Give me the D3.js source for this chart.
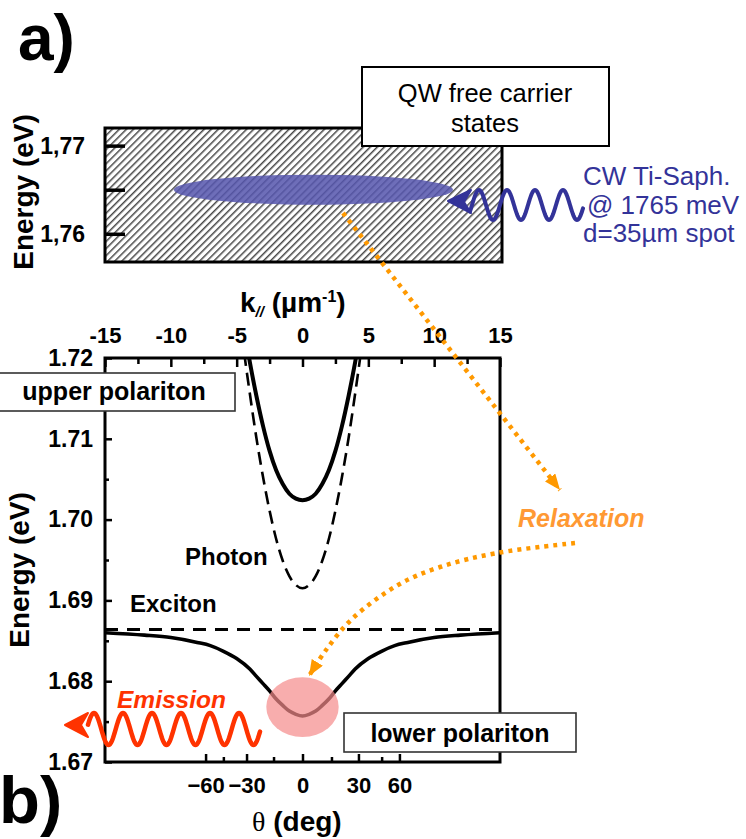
<!DOCTYPE html>
<html>
<head>
<meta charset="utf-8">
<script src="https://cdn.jsdelivr.net/npm/d3@7"></script>
<style>
  html, body { margin: 0; padding: 0; background: #fff; }
  svg { display: block; }
</style>
</head>
<body>
<svg id="fig" width="746" height="839"></svg>
<script>
const FONT = '"Liberation Sans", Arial, Helvetica, sans-serif';
const SERIF = '"Liberation Serif", "DejaVu Serif", serif';

// ---------- axis ticks ----------
const kTicks = [-15, -10, -5, 0, 5, 10, 15];
const kMinorTicks = [-12.5, -7.5, -2.5, 2.5, 7.5, 12.5];
const energyTicksB = [1.67, 1.68, 1.69, 1.70, 1.71, 1.72];
const energyMinorB = [1.675, 1.685, 1.695, 1.705, 1.715];
const energyTicksA = [1.76, 1.765, 1.77];
const energyLabelsA = [1.76, 1.77];
const thetaTicks = [-60, -30, 0, 30, 60];
const thetaMinor = [-45, -15, 15, 45];
const kLight = 8.5;               // light wavevector at ~1.68 eV, µm^-1 (k = kLight·sinθ)

// ---------- dispersion curves (k in µm^-1, E in eV) ----------
const kPhoton = [-5, -4.5, -4, -3.5, -3, -2.5, -2, -1.5, -1, -0.5, 0, 0.5, 1, 1.5, 2, 2.5, 3, 3.5, 4, 4.5, 5];
const ePhoton = [1.7280, 1.7215, 1.7156, 1.7101, 1.7053, 1.7011, 1.6976, 1.6949, 1.6930, 1.6919, 1.6915,
                 1.6919, 1.6930, 1.6949, 1.6976, 1.7011, 1.7053, 1.7101, 1.7156, 1.7215, 1.7280];

const kUpper = [-4.5, -4, -3.5, -3, -2.5, -2, -1.5, -1, -0.5, 0, 0.5, 1, 1.5, 2, 2.5, 3, 3.5, 4, 4.5];
const eUpper = [1.7242, 1.7195, 1.7153, 1.7116, 1.7085, 1.7061, 1.7044, 1.7032, 1.7026, 1.7024,
                1.7026, 1.7032, 1.7044, 1.7061, 1.7085, 1.7116, 1.7153, 1.7195, 1.7242];

const kLower = [-15, -12, -10, -8, -7, -6, -5, -4, -3.5, -3, -2.5, -2, -1.5, -1, -0.5, 0,
                0.5, 1, 1.5, 2, 2.5, 3, 3.5, 4, 5, 6, 7, 8, 10, 12, 15];
const eLower = [1.6860, 1.6857, 1.6854, 1.6848, 1.6844, 1.6837, 1.6828, 1.6815, 1.6806, 1.6797, 1.6788,
                1.6778, 1.6770, 1.6763, 1.6759, 1.6757, 1.6759, 1.6763, 1.6770, 1.6778, 1.6788,
                1.6797, 1.6806, 1.6815, 1.6828, 1.6837, 1.6844, 1.6848, 1.6854, 1.6857, 1.6860];

const kExciton = [-15, 15];
const eExciton = [1.6864, 1.6864];

// pump spot in the free-carrier continuum (centred on 1765 meV) and polariton population at k = 0
const spotK = [-9.8, 11.3];
const spotE = [1.7633, 1.7667];
const popK = [-2.75, 2.75];
const popE = [1.6731, 1.6805];

// ---------- scales ----------
const xA = d3.scaleLinear().domain([-15, 15]).range([105, 502]);
const yA = d3.scaleLinear().domain([1.7568, 1.7720]).range([262, 128]);
const xB = d3.scaleLinear().domain([-15, 15]).range([105, 500]);
const yB = d3.scaleLinear().domain([1.67, 1.72]).range([762, 358]);

const svg = d3.select("#fig");
const defs = svg.append("defs");

// diagonal hatching for the continuum of free-carrier states
const pat = defs.append("pattern")
  .attr("id", "hatch").attr("patternUnits", "userSpaceOnUse")
  .attr("width", 5).attr("height", 5).attr("patternTransform", "rotate(45)");
pat.append("rect").attr("width", 5).attr("height", 5).attr("fill", "#fff");
pat.append("rect").attr("x", 0).attr("y", 0).attr("width", 1.5).attr("height", 5).attr("fill", "#474747");

defs.append("clipPath").attr("id", "plotClip")
  .append("rect").attr("x", xB.range()[0]).attr("y", yB.range()[1])
  .attr("width", xB.range()[1] - xB.range()[0]).attr("height", yB.range()[0] - yB.range()[1]);

function addArrowMarker(id, color, len, wid) {
  defs.append("marker").attr("id", id)
    .attr("markerUnits", "userSpaceOnUse")
    .attr("viewBox", `0 0 ${len} ${wid}`)
    .attr("refX", len).attr("refY", wid / 2)
    .attr("markerWidth", len).attr("markerHeight", wid)
    .attr("orient", "auto")
    .append("path").attr("d", `M0,0 L${len},${wid / 2} L0,${wid} Z`).attr("fill", color);
}
addArrowMarker("orangeHead", "#ff9900", 16, 13);

function styleAxis(g, size, width) {
  g.attr("font-family", FONT).attr("font-size", size).attr("font-weight", "bold");
  g.selectAll("text").attr("fill", "#000");
  g.selectAll(".tick line").attr("stroke", "#000").attr("stroke-width", width);
  g.select(".domain").remove();
}

// ================= panel a) =================
svg.append("text").attr("x", 18).attr("y", 60)
  .attr("font-family", FONT).attr("font-weight", "bold").attr("font-size", 64).text("a)");

svg.append("rect")
  .attr("x", xA.range()[0]).attr("y", yA.range()[1])
  .attr("width", xA.range()[1] - xA.range()[0]).attr("height", yA.range()[0] - yA.range()[1])
  .attr("fill", "url(#hatch)");

svg.append("ellipse")
  .attr("cx", (xA(spotK[0]) + xA(spotK[1])) / 2)
  .attr("cy", (yA(spotE[0]) + yA(spotE[1])) / 2)
  .attr("rx", (xA(spotK[1]) - xA(spotK[0])) / 2)
  .attr("ry", (yA(spotE[0]) - yA(spotE[1])) / 2)
  .attr("fill", "#5656ae").attr("fill-opacity", 0.86);

svg.append("rect")
  .attr("x", xA.range()[0]).attr("y", yA.range()[1])
  .attr("width", xA.range()[1] - xA.range()[0]).attr("height", yA.range()[0] - yA.range()[1])
  .attr("fill", "none").attr("stroke", "#000").attr("stroke-width", 3);

const axA = svg.append("g").attr("transform", `translate(${xA.range()[0]},0)`)
  .call(d3.axisLeft(yA).tickValues(energyTicksA).tickSize(-20).tickPadding(20)
    .tickFormat(d => energyLabelsA.includes(d) ? d3.format(".2f")(d).replace(".", ",") : ""));
styleAxis(axA, 23, 3.5);

svg.append("text")
  .attr("transform", "translate(33,192) rotate(-90)")
  .attr("text-anchor", "middle")
  .attr("font-family", FONT).attr("font-weight", "bold").attr("font-size", 28)
  .text("Energy (eV)");

// label box for the continuum
svg.append("rect").attr("x", 362).attr("y", 67).attr("width", 247).attr("height", 79)
  .attr("fill", "#fff").attr("stroke", "#000").attr("stroke-width", 2);
svg.append("text").attr("x", 485).attr("y", 102).attr("text-anchor", "middle")
  .attr("font-family", FONT).attr("font-size", 25.5).text("QW free carrier");
svg.append("text").attr("x", 485).attr("y", 132).attr("text-anchor", "middle")
  .attr("font-family", FONT).attr("font-size", 25.5).text("states");

// sinusoidal photon symbol
function wavePath(x0, x1, yc, amp, period, xPeak) {
  const pts = [];
  for (let x = x0; x <= x1 + 0.01; x += 0.5) {
    pts.push([x, yc - amp * Math.cos(2 * Math.PI * (x - xPeak) / period)]);
  }
  return d3.line()(pts);
}

// pump laser
const blue = "#333399";
svg.append("path").attr("d", wavePath(470, 583, 205, 15, 28, 507))
  .attr("fill", "none").attr("stroke", blue).attr("stroke-width", 4).attr("stroke-linecap", "round");
svg.append("path").attr("d", "M471,190 L448,201 L471,213 L464,202 Z")
  .attr("fill", blue).attr("stroke", blue).attr("stroke-width", 2).attr("stroke-linejoin", "round");

const pumpLines = ["CW Ti-Saph.", "@ 1765 meV", "d=35\u00b5m spot"];
const pumpX = [583, 587, 583];
const pumpY = [185, 213.5, 242];
pumpLines.forEach((t, i) => {
  svg.append("text").attr("x", pumpX[i]).attr("y", pumpY[i])
    .attr("font-family", FONT).attr("font-size", 26).attr("fill", blue).text(t);
});

// ================= panel b) =================
const line = (ks, es) => d3.line().x((d, i) => xB(ks[i])).y(d => yB(d)).curve(d3.curveMonotoneX)(es);

const curves = svg.append("g").attr("clip-path", "url(#plotClip)");
curves.append("path").attr("d", line(kExciton, eExciton))
  .attr("fill", "none").attr("stroke", "#000").attr("stroke-width", 3).attr("stroke-dasharray", "13,9");
curves.append("path").attr("d", line(kPhoton, ePhoton))
  .attr("fill", "none").attr("stroke", "#000").attr("stroke-width", 2.6).attr("stroke-dasharray", "13,7");
curves.append("path").attr("d", line(kUpper, eUpper))
  .attr("fill", "none").attr("stroke", "#000").attr("stroke-width", 4);
curves.append("path").attr("d", line(kLower, eLower))
  .attr("fill", "none").attr("stroke", "#000").attr("stroke-width", 3.6);

// polariton population at the bottom of the lower branch
svg.append("ellipse")
  .attr("cx", (xB(popK[0]) + xB(popK[1])) / 2)
  .attr("cy", (yB(popE[0]) + yB(popE[1])) / 2)
  .attr("rx", (xB(popK[1]) - xB(popK[0])) / 2)
  .attr("ry", (yB(popE[0]) - yB(popE[1])) / 2)
  .attr("fill", "#f58a8a").attr("fill-opacity", 0.7);

// frame
svg.append("rect")
  .attr("x", xB.range()[0]).attr("y", yB.range()[1])
  .attr("width", xB.range()[1] - xB.range()[0]).attr("height", yB.range()[0] - yB.range()[1])
  .attr("fill", "none").attr("stroke", "#000").attr("stroke-width", 3);

// left energy axis
const axL = svg.append("g").attr("transform", `translate(${xB.range()[0]},0)`)
  .call(d3.axisLeft(yB).tickValues(energyTicksB).tickSize(-7).tickPadding(12).tickFormat(d3.format(".2f")));
styleAxis(axL, 23, 2.5);
const axLm = svg.append("g").attr("transform", `translate(${xB.range()[0]},0)`)
  .call(d3.axisLeft(yB).tickValues(energyMinorB).tickSize(-4).tickFormat(""));
styleAxis(axLm, 23, 2.5);

// top wavevector axis
const axT = svg.append("g").attr("transform", `translate(0,${yB.range()[1]})`)
  .call(d3.axisTop(xB).tickValues(kTicks).tickSize(-9).tickPadding(15).tickFormat(d => String(d)));
styleAxis(axT, 22, 2.5);
const axTm = svg.append("g").attr("transform", `translate(0,${yB.range()[1]})`)
  .call(d3.axisTop(xB).tickValues(kMinorTicks).tickSize(-6).tickFormat(""));
styleAxis(axTm, 22, 2.5);

// bottom emission-angle axis (k = kLight·sinθ)
const toK = t => kLight * Math.sin(t * Math.PI / 180);
const thetaLabel = new Map(thetaTicks.map(t => [toK(t), t < 0 ? "\u2212" + Math.abs(t) : String(t)]));
const axBt = svg.append("g").attr("transform", `translate(0,${yB.range()[0]})`)
  .call(d3.axisBottom(xB).tickValues(thetaTicks.map(toK)).tickSize(-8).tickPadding(15)
    .tickFormat(d => thetaLabel.get(d)));
styleAxis(axBt, 22, 2.5);
const axBm = svg.append("g").attr("transform", `translate(0,${yB.range()[0]})`)
  .call(d3.axisBottom(xB).tickValues(thetaMinor.map(toK)).tickSize(-5).tickFormat(""));
styleAxis(axBm, 22, 2.5);

// axis titles
const kt = svg.append("text").attr("x", 240).attr("y", 312)
  .attr("font-family", FONT).attr("font-weight", "bold").attr("font-size", 28);
kt.append("tspan").text("k");
kt.append("tspan").attr("font-size", 15).attr("font-style", "italic").attr("dy", 5).text("//");
kt.append("tspan").attr("dy", -5).text(" (\u00b5m");
kt.append("tspan").attr("font-size", 16).attr("dy", -10).text("-1");
kt.append("tspan").attr("dy", 10).text(")");

svg.append("text")
  .attr("transform", "translate(29,570) rotate(-90)")
  .attr("text-anchor", "middle")
  .attr("font-family", FONT).attr("font-weight", "bold").attr("font-size", 28)
  .text("Energy (eV)");

const tt = svg.append("text").attr("x", 252).attr("y", 831).attr("font-size", 28);
tt.append("tspan").attr("font-family", SERIF).text("\u03b8");
tt.append("tspan").attr("font-family", FONT).attr("font-weight", "bold").text(" (deg)");

svg.append("text").attr("x", -1).attr("y", 823)
  .attr("font-family", FONT).attr("font-weight", "bold").attr("font-size", 67).text("b)");

// branch labels
function boxLabel(x, y, w, h, tx, ty, txt) {
  svg.append("rect").attr("x", x).attr("y", y).attr("width", w).attr("height", h)
    .attr("fill", "#fff").attr("stroke", "#333").attr("stroke-width", 1.6);
  svg.append("text").attr("x", tx).attr("y", ty).attr("text-anchor", "middle")
    .attr("font-family", FONT).attr("font-weight", "bold").attr("font-size", 25).text(txt);
}
boxLabel(-2, 373, 237, 38, 114, 400, "upper polariton");
boxLabel(344, 713, 232, 39, 460, 742, "lower polariton");

svg.append("text").attr("x", 185).attr("y", 565)
  .attr("font-family", FONT).attr("font-weight", "bold").attr("font-size", 24).text("Photon");
svg.append("text").attr("x", 130).attr("y", 612)
  .attr("font-family", FONT).attr("font-weight", "bold").attr("font-size", 24).text("Exciton");

// relaxation path: from the pumped carriers down to the polariton ground state
const orange = "#ff9900";
svg.append("path")
  .attr("d", d3.line()([[343, 213], [560, 490]]))
  .attr("fill", "none").attr("stroke", orange).attr("stroke-width", 4.5)
  .attr("stroke-dasharray", "4,5").attr("marker-end", "url(#orangeHead)");
svg.append("path")
  .attr("d", d3.line().curve(d3.curveCatmullRom)([[575, 543], [497, 553], [440, 567], [398, 585], [352, 619], [326, 650], [309, 676]]))
  .attr("fill", "none").attr("stroke", orange).attr("stroke-width", 4.5)
  .attr("stroke-dasharray", "4,5").attr("marker-end", "url(#orangeHead)");
svg.append("text").attr("x", 518).attr("y", 527)
  .attr("font-family", FONT).attr("font-weight", "bold").attr("font-style", "italic")
  .attr("font-size", 25).attr("fill", "#ff9933").text("Relaxation");

// emitted light
const red = "#ff3300";
svg.append("path").attr("d", wavePath(88, 260, 729, 16, 29, 123))
  .attr("fill", "none").attr("stroke", red).attr("stroke-width", 4.5).attr("stroke-linecap", "round");
svg.append("path").attr("d", "M88,713 L65,725 L88,737 L81,725 Z")
  .attr("fill", red).attr("stroke", red).attr("stroke-width", 2).attr("stroke-linejoin", "round");
svg.append("text").attr("x", 117).attr("y", 708)
  .attr("font-family", FONT).attr("font-weight", "bold").attr("font-style", "italic")
  .attr("font-size", 24.5).attr("fill", red).text("Emission");
</script>
</body>
</html>
